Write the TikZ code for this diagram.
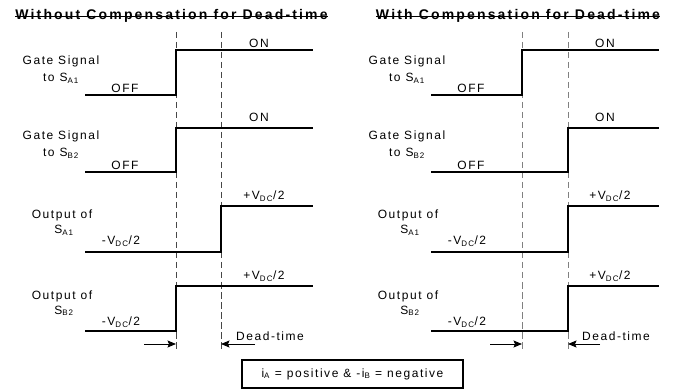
\documentclass[tikz,border=0pt]{standalone}
\usepackage{fontspec}
\setmainfont{Liberation Sans}
\newfontfamily\lblfont{Liberation Sans}[LetterSpace=13]
\newfontfamily\ttlfont{Liberation Sans}[LetterSpace=15.5,BoldFont={* Bold}]
\usetikzlibrary{arrows.meta}
\begin{document}
\begin{tikzpicture}[x=1pt,y=-1pt,
  sig/.style={line width=2.3pt},
  dlL/.style={line width=1pt, dash pattern=on 6.5pt off 3.5pt, draw=black!72},
  dlR/.style={line width=1pt, dash pattern=on 6.5pt off 3.5pt, draw=black!50},
  lbl/.style={font=\lblfont\fontsize{12}{14}\selectfont, inner sep=0pt, align=center},
  bl/.style={lbl, anchor=base},
  ttl/.style={font=\ttlfont\bfseries\fontsize{14}{15}\selectfont, inner sep=0pt, anchor=base},
  arr/.style={line width=0.9pt, -{Stealth[length=8.5pt,width=7pt,inset=1.5pt]}},
  ulin/.style={line width=1.5pt}
]
\useasboundingbox (0,0) rectangle (683,390);

% titles
\node[ttl] (t1) at (171.5,20) {Without Compensation for Dead-time};
\draw[ulin] ([yshift=3.5pt]t1.base west) -- ([yshift=3.5pt]t1.base east);
\node[ttl] (t2) at (518,20) {With Compensation for Dead-time};
\draw[ulin] ([yshift=3.5pt]t2.base west) -- ([yshift=3.5pt]t2.base east);

% dashed lines
\coordinate (dL1t) at (176,32); \coordinate (dL1b) at (176,352);
\coordinate (dL2t) at (221,32); \coordinate (dL2b) at (221,352);
\coordinate (dR1t) at (522,32); \coordinate (dR1b) at (522,352);
\coordinate (dR2t) at (568,32); \coordinate (dR2b) at (568,352);
\draw[dlL] (dL1t) -- (dL1b);
\draw[dlL] (dL2t) -- (dL2b);
\draw[dlR] (dR1t) -- (dR1b);
\draw[dlR] (dR2t) -- (dR2b);

% ---------- left panel waveforms
\draw[sig] (85,95) -- (176,95) -- (176,50) -- (313,50);
\draw[sig] (85,172) -- (176,172) -- (176,128) -- (313,128);
\draw[sig] (85,252) -- (221,252) -- (221,206) -- (313,206);
\draw[sig] (85,331) -- (176,331) -- (176,286) -- (313,286);

% ---------- right panel waveforms
\draw[sig] (431,95) -- (522,95) -- (522,50) -- (659,50);
\draw[sig] (431,172) -- (568,172) -- (568,128) -- (659,128);
\draw[sig] (431,252) -- (568,252) -- (568,206) -- (659,206);
\draw[sig] (431,331) -- (568,331) -- (568,286) -- (659,286);

% ---------- left labels
\node[bl] (gA1a) at (61,65) {Gate Signal};
\node[bl] (gA1b) at (61,82) {to S\textsubscript{A1}};
\node[lbl] (offA1) at (125,88) {OFF};
\node[lbl] (onA1) at (259,43) {ON};
\node[bl] (gB2a) at (61,140) {Gate Signal};
\node[bl] (gB2b) at (61,157) {to S\textsubscript{B2}};
\node[lbl] (offB2) at (125,165) {OFF};
\node[lbl] (onB2) at (259,117) {ON};
\node[bl] (oA1a) at (62,219) {Output of};
\node[bl] (oA1b) at (64,234) {S\textsubscript{A1}};
\node[lbl] (pA1) at (264,196) {+V\textsubscript{DC}/2};
\node[lbl] (mA1) at (121,241) {-V\textsubscript{DC}/2};
\node[bl] (oB2a) at (62,299) {Output of};
\node[bl] (oB2b) at (64,314) {S\textsubscript{B2}};
\node[lbl] (pB2) at (264,276) {+V\textsubscript{DC}/2};
\node[lbl] (mB2) at (121,322) {-V\textsubscript{DC}/2};
\node[lbl] (dtL) at (270,336) {Dead-time};

% ---------- right labels
\node[bl] (gA1ar) at (407,65) {Gate Signal};
\node[bl] (gA1br) at (407,82) {to S\textsubscript{A1}};
\node[lbl] (offA1r) at (471,88) {OFF};
\node[lbl] (onA1r) at (605,43) {ON};
\node[bl] (gB2ar) at (407,140) {Gate Signal};
\node[bl] (gB2br) at (407,157) {to S\textsubscript{B2}};
\node[lbl] (offB2r) at (471,165) {OFF};
\node[lbl] (onB2r) at (605,117) {ON};
\node[bl] (oA1ar) at (408,219) {Output of};
\node[bl] (oA1br) at (410,234) {S\textsubscript{A1}};
\node[lbl] (pA1r) at (610,196) {+V\textsubscript{DC}/2};
\node[lbl] (mA1r) at (467,241) {-V\textsubscript{DC}/2};
\node[bl] (oB2ar) at (408,299) {Output of};
\node[bl] (oB2br) at (410,314) {S\textsubscript{B2}};
\node[lbl] (pB2r) at (610,276) {+V\textsubscript{DC}/2};
\node[lbl] (mB2r) at (467,322) {-V\textsubscript{DC}/2};
\node[lbl] (dtR) at (616,336) {Dead-time};

% ---------- arrows
\coordinate (aL1s) at (144,344); \coordinate (aL1e) at (176,344);
\coordinate (aL2s) at (255,344); \coordinate (aL2e) at (221,344);
\coordinate (aR1s) at (490,344); \coordinate (aR1e) at (522,344);
\coordinate (aR2s) at (600,344); \coordinate (aR2e) at (568,344);
\draw[arr] (aL1s) -- (aL1e);
\draw[arr] (aL2s) -- (aL2e);
\draw[arr] (aR1s) -- (aR1e);
\draw[arr] (aR2s) -- (aR2e);

% ---------- bottom box
\node[lbl, draw, line width=1.8pt, minimum width=221pt, minimum height=28pt] (cond) at (352.5,374)
  {i\textsubscript{A} = positive \& -i\textsubscript{B} = negative};
\end{tikzpicture}
\end{document}
